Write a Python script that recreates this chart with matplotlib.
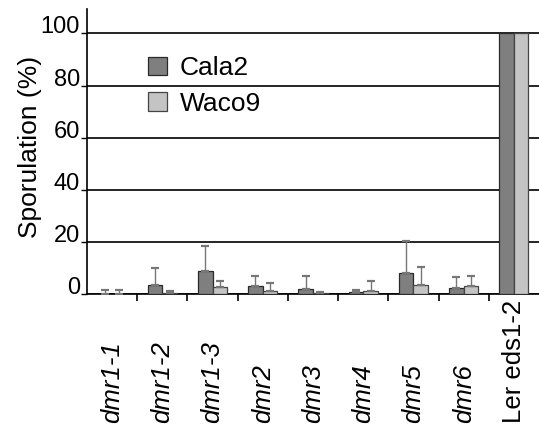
import numpy as np
import matplotlib.pyplot as plt
from matplotlib.transforms import blended_transform_factory

plt.rcParams['font.family'] = ['Liberation Sans', 'DejaVu Sans']

lines = ['dmr1-1', 'dmr1-2', 'dmr1-3', 'dmr2', 'dmr3', 'dmr4', 'dmr5', 'dmr6', 'Ler eds1-2']
cala2 = [0.0, 3.5, 8.8, 3.1, 1.8, 0.7, 8.2, 2.4, 100]
cala2_err = [1.6, 6.6, 9.6, 3.9, 5.2, 0.8, 12.1, 4.1, 0]
waco9 = [0.0, 0.3, 2.6, 1.3, 0.3, 1.2, 3.5, 3.1, 100]
waco9_err = [1.6, 0.9, 2.5, 2.8, 0.3, 3.9, 7.0, 3.9, 0]

fig = plt.figure(figsize=(5.39, 4.25), dpi=100)
ax = fig.add_axes([0.1614, 0.3082, 0.8386, 0.6706])

x = np.arange(len(lines))
w = 0.29
ax.bar(x - w / 2, cala2, w, color='#7f7f7f', edgecolor='#2a2a2a', linewidth=0.9, label='Cala2', zorder=3)
ax.bar(x + w / 2, waco9, w, color='#c4c4c4', edgecolor='#444444', linewidth=0.9, label='Waco9', zorder=3)

# one-sided error bars, skip the control
n = len(lines) - 1
ax.errorbar(x[:n] - w / 2, cala2[:n], yerr=[np.zeros(n), cala2_err[:n]], fmt='none',
            ecolor='#777777', elinewidth=1, capsize=3, capthick=1.6, zorder=4)
ax.errorbar(x[:n] + w / 2, waco9[:n], yerr=[np.zeros(n), waco9_err[:n]], fmt='none',
            ecolor='#777777', elinewidth=1, capsize=3, capthick=1.6, zorder=4)

ax.set_xlim(-0.5, len(lines) - 0.5)
ax.set_ylim(0, 109.4)
ax.set_yticks([0, 20, 40, 60, 80, 100])
ax.yaxis.grid(True, color='black', linewidth=1.2, zorder=1)
ax.set_axisbelow(True)
ax.tick_params(axis='y', labelsize=17, length=4, width=1, pad=1)
for lab in ax.get_yticklabels():
    lab.set_verticalalignment('baseline')
ax.set_ylabel('Sporulation (%)', fontsize=19)
ax.yaxis.set_label_coords(-0.0996, 0.516)

ax.set_xticks(x[:-1] + 0.5)
ax.set_xticklabels([])
ax.tick_params(axis='x', length=5, width=1.2)

for s in ['top', 'right']:
    ax.spines[s].set_visible(False)
for s in ['left', 'bottom']:
    ax.spines[s].set_linewidth(1.2)

tr = blended_transform_factory(ax.transData, fig.transFigure)
for xi, name in zip(x, lines):
    style = 'italic'
    if name.startswith('Ler'):
        style = 'normal'
    ax.text(xi, 0.004, name, transform=tr, rotation=90, ha='center', va='bottom',
            fontsize=18.5, style=style)

ax.legend(loc='upper left', bbox_to_anchor=(0.095, 0.90), frameon=False, fontsize=19,
          handlelength=0.7, handleheight=0.7, handletextpad=0.5, labelspacing=0.45,
          borderpad=0.2)

fig.savefig('out.png', dpi=100)
